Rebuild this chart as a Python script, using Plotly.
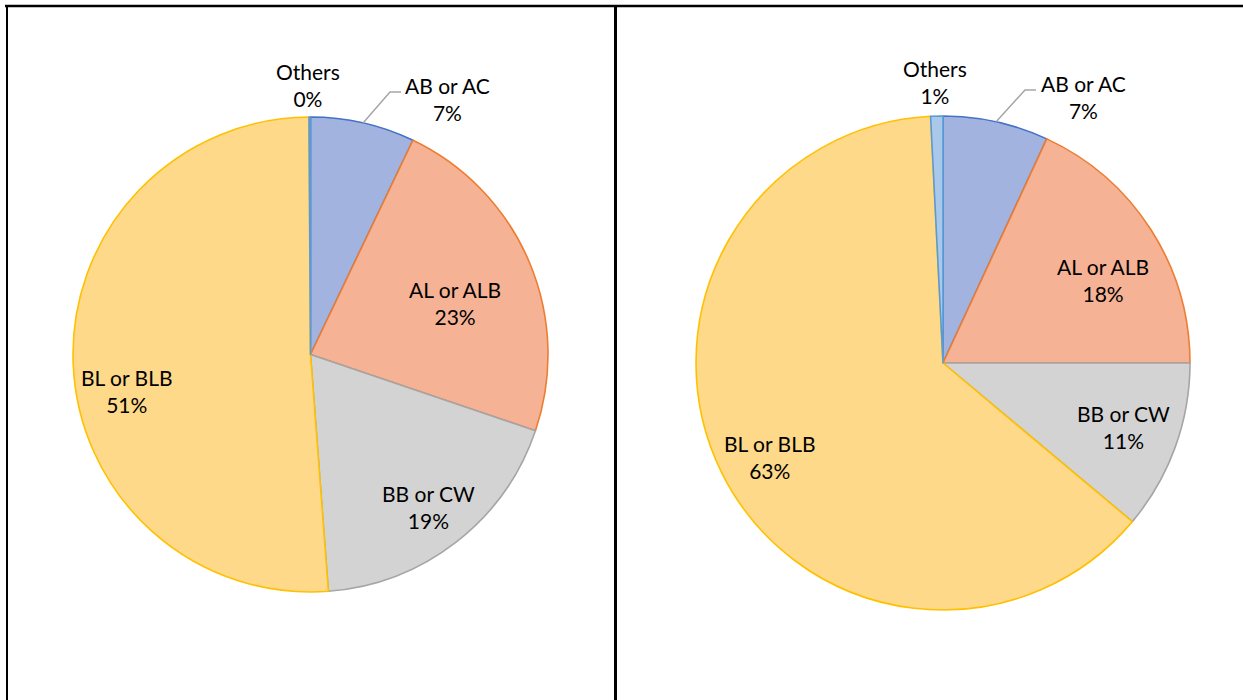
import math
import plotly.graph_objects as go

labels = ["AB or AC", "AL or ALB", "BB or CW", "BL or BLB", "Others"]
left_values = [7.1, 23.1, 18.6, 51.1, 0.1]
right_values = [6.9, 18.1, 11.1, 63.1, 0.8]

fill_colors = ["#a3b3df", "#f5b295", "#d3d3d3", "#fed98a", "#aac9ea"]
line_colors = ["#4472C4", "#ED7D31", "#A5A5A5", "#FFC000", "#5B9BD5"]

# label centres (pixels) for each panel, in the order of `labels`
left_label_pos = [(447, 99), (455, 303), (428, 507), (127, 391), (308, 85)]
right_label_pos = [(1083, 97), (1103, 280), (1123, 427), (770, 457), (935, 82)]
# elbow / end of the leader line for the "AB or AC" label
left_leader = [(390, 92), (401, 92)]
right_leader = [(1025, 90), (1036, 90)]

W, H = 1243, 700
FONT = dict(family="Lato", size=21, color="#000000")


def px(x, y):
    return x / W, 1 - y / H


def pie(values, cx, cy, r):
    return go.Pie(
        labels=labels, values=values, sort=False, direction="clockwise", rotation=0,
        marker=dict(colors=fill_colors, line=dict(color=line_colors, width=1.6)),
        textinfo="none",
        domain=dict(x=[(cx - r) / W, (cx + r) / W], y=[(H - cy - r) / H, (H - cy + r) / H]),
        showlegend=False, hoverinfo="label+percent",
    )


def panel_annotations(values, positions):
    total = sum(values)
    anns = []
    for lab, v, (x, y) in zip(labels, values, positions):
        pct = round(v / total * 100)
        ax, ay = px(x, y)
        anns.append(dict(x=ax, y=ay, xref="paper", yref="paper", showarrow=False,
                         text=f"{lab}<br>{pct}%", font=FONT, align="center",
                         xanchor="center", yanchor="middle"))
    return anns


def leader(values, cx, cy, r, pts):
    # start point on the rim at the mid-angle of the first slice
    total = sum(values)
    ang = 2 * math.pi * (values[0] / 2) / total
    sx, sy = cx + r * math.sin(ang), cy - r * math.cos(ang)
    coords = [(sx, sy)] + pts
    path = "M " + " L ".join(f"{x / W},{1 - y / H}" for x, y in coords)
    return dict(type="path", xref="paper", yref="paper", path=path,
                line=dict(color="#a6a6a6", width=1.5))


fig = go.Figure()
LC = (310.5, 354.5, 237.5)
RC = (943, 363, 247)
fig.add_trace(pie(left_values, *LC))
fig.add_trace(pie(right_values, *RC))

frame = dict(type="line", xref="paper", yref="paper")
fig.update_layout(
    width=W, height=H, margin=dict(l=0, r=0, t=0, b=0),
    paper_bgcolor="white", plot_bgcolor="white",
    annotations=panel_annotations(left_values, left_label_pos)
    + panel_annotations(right_values, right_label_pos),
    shapes=[
        dict(frame, x0=5 / W, x1=1, y0=1 - 6 / H, y1=1 - 6 / H, line=dict(color="black", width=2.5)),
        dict(frame, x0=7 / W, x1=7 / W, y0=0, y1=1 - 6 / H, line=dict(color="black", width=2)),
        dict(frame, x0=615.5 / W, x1=615.5 / W, y0=0, y1=1 - 6 / H, line=dict(color="black", width=3)),
        leader(left_values, *LC, left_leader),
        leader(right_values, *RC, right_leader),
    ],
)
fig.write_html("out.html", config={"displayModeBar": False},
               post_script="document.body.style.margin='0px';")
